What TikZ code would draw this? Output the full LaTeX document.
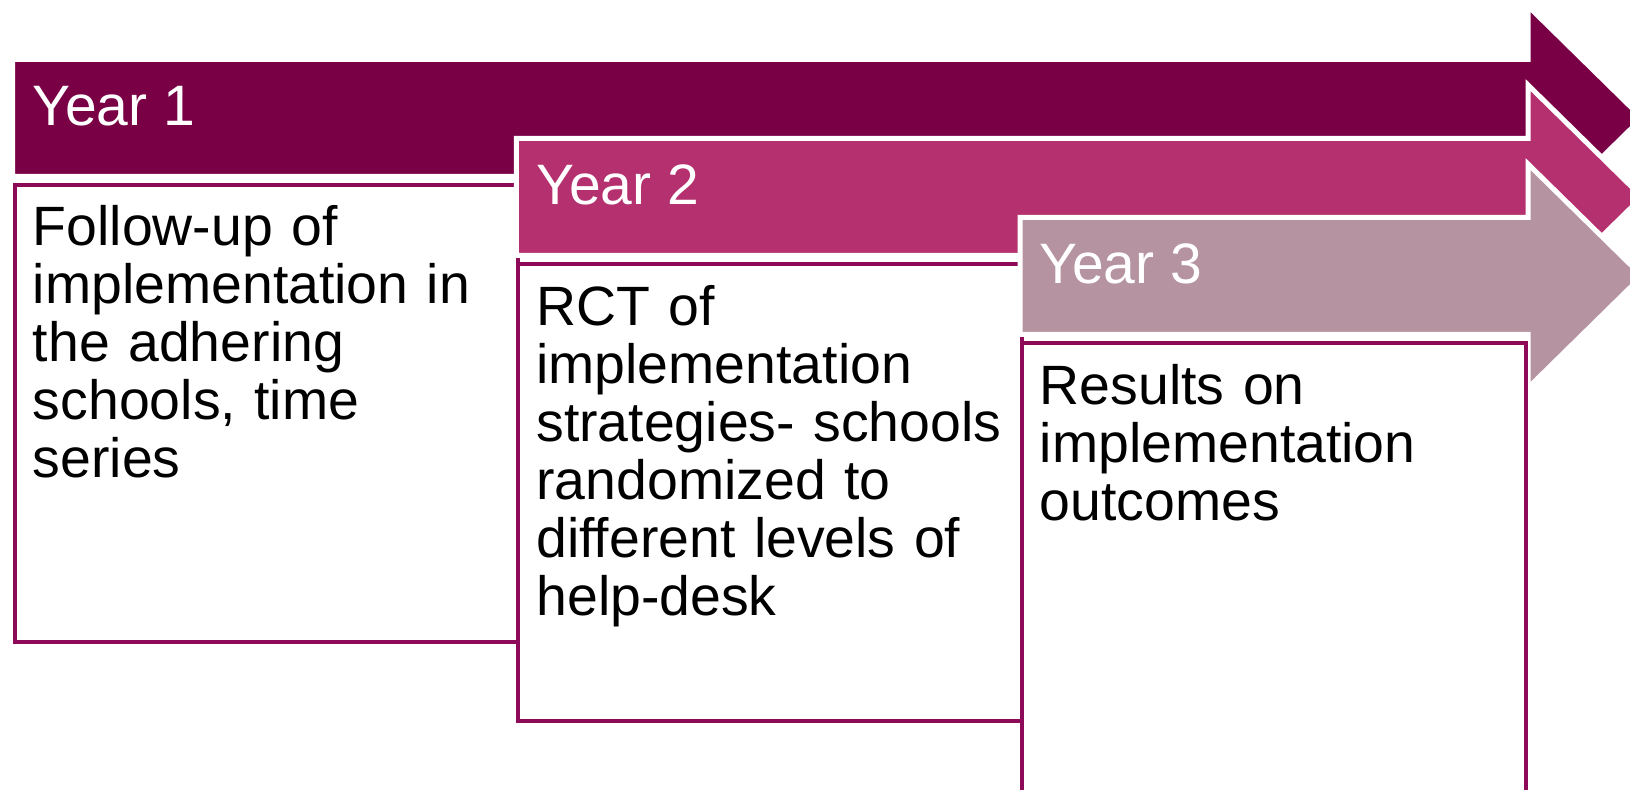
\documentclass[tikz,border=0pt]{standalone}
\usepackage{fontspec}
\setmainfont{Liberation Sans}
\usepackage{tikz}

\definecolor{yearone}{HTML}{7A0046}
\definecolor{yeartwo}{HTML}{B5306E}
\definecolor{yearthree}{HTML}{B593A0}
\definecolor{panelrim}{HTML}{8C0A58}

\begin{document}
\begin{tikzpicture}[
        x=0.5pt,
        y=-0.5pt,
        yearbar/.style={
            draw=white,
            line width=2.5pt,
            line join=miter
        },
        panel/.style={
            rectangle,
            draw=panelrim,
            fill=white,
            line width=2pt,
            inner sep=0pt,
            anchor=north west,
            minimum width=251.9pt,
            minimum height=228.5pt
        },
        yearlabel/.style={
            anchor=base west,
            inner sep=0pt,
            text=white,
            font=\fontsize{28.5pt}{30pt}\selectfont
        },
        panellabel/.style={
            anchor=base west,
            inner sep=0pt,
            align=left,
            text width=245pt,
            font=\fontsize{27.7pt}{29pt}\selectfont
        },
      ]
        \clip (0,0) rectangle (1630,790);
        % first year
        \path [yearbar,fill=yearone] (12.5,59.5) -- (1528,59.5) -- (1528,6) -- (1642,118) -- (1528,230) -- (1528,176.5) -- (12.5,176.5) -- cycle;
        \node [panel] (panel-one) at (12.5,183) {};
        \node [yearlabel] (year-one) at (32,126) {Year 1};
        \node [panellabel] (follow-up) at (32.5,246) {Follow-up of\\implementation in\\the adhering\\schools, time\\series};
        % second year
        \path [yearbar,fill=yeartwo] (516.25,138.5) -- (1528,138.5) -- (1528,85) -- (1642,197) -- (1528,309) -- (1528,255.5) -- (516.25,255.5) -- cycle;
        \node [panel] (panel-two) at (516.25,262) {};
        \node [yearlabel] (year-two) at (536,205) {Year 2};
        \node [panellabel] (rct) at (536,326) {RCT of\\implementation\\strategies- schools\\randomized to\\different levels of\\help-desk};
        % third year
        \path [yearbar,fill=yearthree] (1020,217.5) -- (1528,217.5) -- (1528,164) -- (1642,276) -- (1528,388) -- (1528,334.5) -- (1020,334.5) -- cycle;
        \node [panel] (panel-three) at (1020,341) {};
        \node [yearlabel] (year-three) at (1039,284) {Year 3};
        \node [panellabel] (results) at (1039.5,405) {Results on\\implementation\\outcomes};
      \end{tikzpicture}
\end{document}
